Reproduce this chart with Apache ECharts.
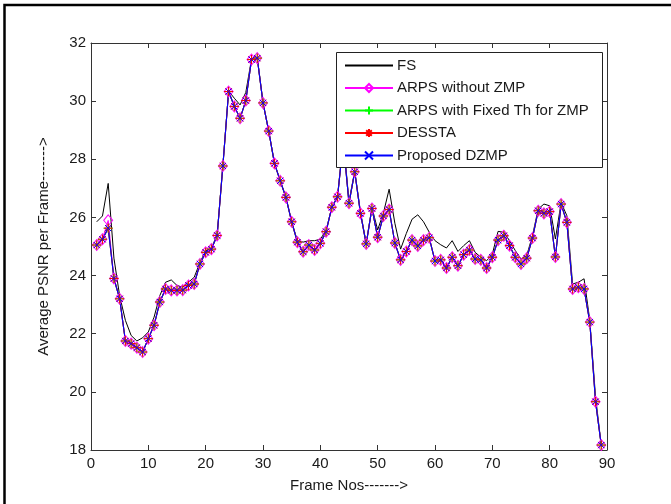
<!DOCTYPE html>
<html>
<head>
<meta charset="utf-8">
<script src="https://cdn.jsdelivr.net/npm/echarts@6/dist/echarts.min.js"></script>
<style>
  html, body { margin: 0; padding: 0; background: #fff; }
  #chart { width: 671px; height: 504px; }
</style>
</head>
<body>
<div id="chart"></div>
<script>
// Frame numbers 1..89
const frames = [1,2,3,4,5,6,7,8,9,10,11,12,13,14,15,16,17,18,19,20,21,22,23,24,25,26,27,28,29,30,
  31,32,33,34,35,36,37,38,39,40,41,42,43,44,45,46,47,48,49,50,51,52,53,54,55,56,57,58,59,60,
  61,62,63,64,65,66,67,68,69,70,71,72,73,74,75,76,77,78,79,80,81,82,83,84,85,86,87,88,89];

// Average PSNR per frame (dB) for each motion estimation method
const fs = [25.85,26.05,27.17,24.6,23.3,22.46,21.94,21.75,21.86,22.06,22.57,23.31,23.77,23.85,23.66,23.6,23.77,23.94,24.45,24.85,
  24.95,25.4,27.8,30.35,30.1,29.87,30.3,31.45,31.5,29.95,28.97,27.86,27.26,26.69,25.85,25.2,25.15,25.2,25.2,25.25,
  25.55,26.35,26.71,28.7,26.55,27.6,26.2,25.1,26.35,25.57,26.15,26.97,25.8,24.91,25.45,25.94,26.09,25.85,25.49,25.2,
  25.06,24.95,25.2,24.83,25.03,25.2,24.8,24.63,24.51,24.74,25.52,25.49,25.2,24.86,24.57,24.69,25.37,26.29,26.46,26.4,
  25.26,26.51,26.06,23.71,23.77,23.89,22.46,19.83,18.17];

const arpsNoZmp = [25.05,25.25,25.9,23.9,23.2,21.75,21.66,21.52,21.37,21.83,22.29,23.09,23.54,23.49,23.49,23.5,23.66,23.71,24.4,24.8,
  24.91,25.38,27.77,30.33,29.82,29.41,30.02,31.43,31.48,29.94,28.97,27.86,27.26,26.69,25.85,25.15,24.82,25.05,24.88,25.11,
  25.51,26.35,26.71,28.6,26.49,27.57,26.14,25.09,26.31,25.32,26.05,26.27,25.12,24.54,24.83,25.22,25.02,25.22,25.3,24.5,
  24.54,24.26,24.63,24.34,24.72,24.88,24.57,24.54,24.26,24.63,25.22,25.37,25.03,24.63,24.4,24.6,25.29,26.23,26.14,26.2,
  24.64,26.46,25.83,23.54,23.6,23.54,22.4,19.66,18.17];

const arpsFixedTh = [25.05,25.25,25.63,23.9,23.2,21.75,21.66,21.52,21.37,21.83,22.29,23.09,23.54,23.49,23.49,23.5,23.66,23.71,24.4,24.8,
  24.91,25.38,27.77,30.33,29.82,29.41,30.02,31.43,31.48,29.94,28.97,27.86,27.26,26.69,25.85,25.15,24.82,25.05,24.88,25.11,
  25.51,26.35,26.71,28.6,26.49,27.57,26.14,25.09,26.31,25.32,26.05,26.27,25.12,24.54,24.83,25.22,25.02,25.22,25.3,24.5,
  24.54,24.26,24.63,24.34,24.72,24.88,24.57,24.54,24.26,24.63,25.22,25.37,25.03,24.63,24.4,24.6,25.29,26.23,26.14,26.2,
  24.64,26.46,25.83,23.54,23.6,23.54,22.4,19.66,18.17];

const dessta = [25.05,25.25,25.63,23.9,23.2,21.75,21.66,21.52,21.37,21.83,22.29,23.09,23.54,23.49,23.49,23.5,23.66,23.71,24.4,24.8,
  24.91,25.38,27.77,30.33,29.82,29.41,30.02,31.43,31.48,29.94,28.97,27.86,27.26,26.69,25.85,25.15,24.82,25.05,24.88,25.11,
  25.51,26.35,26.71,28.6,26.49,27.57,26.14,25.09,26.31,25.32,26.05,26.27,25.12,24.54,24.83,25.22,25.02,25.22,25.3,24.5,
  24.54,24.26,24.63,24.34,24.72,24.88,24.57,24.54,24.26,24.63,25.22,25.37,25.03,24.63,24.4,24.6,25.29,26.23,26.14,26.2,
  24.64,26.46,25.83,23.54,23.6,23.54,22.4,19.66,18.17];

const dzmp = [25.05,25.25,25.63,23.9,23.2,21.75,21.66,21.52,21.37,21.83,22.29,23.09,23.54,23.49,23.49,23.5,23.66,23.71,24.4,24.8,
  24.91,25.38,27.77,30.33,29.82,29.41,30.02,31.43,31.48,29.94,28.97,27.86,27.26,26.69,25.85,25.15,24.82,25.05,24.88,25.11,
  25.51,26.35,26.71,28.6,26.49,27.57,26.14,25.09,26.31,25.32,26.05,26.27,25.12,24.54,24.83,25.22,25.02,25.22,25.3,24.5,
  24.54,24.26,24.63,24.34,24.72,24.88,24.57,24.54,24.26,24.63,25.22,25.37,25.03,24.63,24.4,24.6,25.29,26.23,26.14,26.2,
  24.64,26.46,25.83,23.54,23.6,23.54,22.4,19.66,18.17];

const seriesNames = ['FS', 'ARPS without ZMP', 'ARPS with Fixed Th for ZMP', 'DESSTA', 'Proposed DZMP'];

const pair = vals => frames.map((f, i) => [f, vals[i]]);

// stroke-only marker shapes
const PLUS = 'path://M5,0L5,10M0,5L10,5';
const STAR = 'path://M5,0L5,10M0,5L10,5M1.5,1.5L8.5,8.5M1.5,8.5L8.5,1.5';
const CROSS = 'path://M0,0L10,10M0,10L10,0';
// plain line, no marker: a transparent square keeps the legend icon line-only
const NOMARK = 'path://M0,0L10,0L10,10L0,10Z';

const FONT = 'Arial, "Liberation Sans", sans-serif';
const INK = '#1a1a1a';
const AXIS = '#333';

const chart = echarts.init(document.getElementById('chart'), null, { renderer: 'canvas' });

function markerSeries(name, vals, color, symbol, size, fillNone) {
  return {
    name, type: 'line', data: pair(vals),
    symbol, symbolSize: size, showAllSymbol: true,
    lineStyle: { color, width: 1.1 },
    itemStyle: { color: fillNone ? 'rgba(255,255,255,0)' : color, borderColor: color, borderWidth: 1 },
    emphasis: { disabled: true }
  };
}

const option = {
  animation: false,
  grid: { left: 91, right: 64, top: 43, bottom: 54, containLabel: false },
  graphic: [
    // figure frame (left and top edges)
    { type: 'polyline', z: 100, shape: { points: [[4.5, 504], [4.5, 5], [671, 5]] },
      style: { stroke: '#000', lineWidth: 2.5, fill: null } },
    // legend box
    { type: 'rect', z: 100, shape: { x: 336.5, y: 52.5, width: 266, height: 115 },
      style: { fill: '#fff', stroke: '#222', lineWidth: 1 } }
  ],
  legend: {
    z: 110,
    orient: 'vertical',
    left: 336, top: 52,
    padding: [6, 8, 6, 8],
    itemWidth: 48, itemHeight: 10, itemGap: 7.5,
    textStyle: { fontFamily: FONT, fontSize: 15, color: INK, padding: [0, 0, 0, -1] },
    data: seriesNames,
    selectedMode: false
  },
  xAxis: [
    {
      type: 'value', min: 0, max: 90, interval: 10,
      name: 'Frame Nos------->', nameLocation: 'middle', nameGap: 28,
      nameTextStyle: { fontFamily: FONT, fontSize: 15, color: INK },
      axisLine: { show: true, onZero: false, lineStyle: { color: AXIS, width: 1 } },
      axisTick: { show: true, inside: true, length: 5, lineStyle: { color: AXIS } },
      axisLabel: { fontFamily: FONT, fontSize: 15, color: INK, margin: 6 },
      splitLine: { show: false }
    },
    {
      type: 'value', min: 0, max: 90, interval: 10, position: 'top',
      axisLine: { show: true, onZero: false, lineStyle: { color: AXIS, width: 1 } },
      axisTick: { show: true, inside: true, length: 5, lineStyle: { color: AXIS } },
      axisLabel: { show: false }, splitLine: { show: false }
    }
  ],
  yAxis: [
    {
      type: 'value', min: 18, max: 32, interval: 2,
      name: 'Average PSNR per Frame------->', nameLocation: 'middle', nameGap: 40,
      nameTextStyle: { fontFamily: FONT, fontSize: 15, color: INK },
      axisLine: { show: true, onZero: false, lineStyle: { color: AXIS, width: 1 } },
      axisTick: { show: true, inside: true, length: 5, lineStyle: { color: AXIS } },
      axisLabel: { fontFamily: FONT, fontSize: 15, color: INK, margin: 5 },
      splitLine: { show: false }
    },
    {
      type: 'value', min: 18, max: 32, interval: 2, position: 'right',
      axisLine: { show: true, onZero: false, lineStyle: { color: AXIS, width: 1 } },
      axisTick: { show: true, inside: true, length: 5, lineStyle: { color: AXIS } },
      axisLabel: { show: false }, splitLine: { show: false }
    }
  ],
  series: [
    {
      name: 'FS', type: 'line', data: pair(fs),
      symbol: NOMARK, symbolSize: 6, showSymbol: false,
      lineStyle: { color: '#000', width: 1 },
      itemStyle: { color: 'rgba(0,0,0,0)', borderWidth: 0 },
      emphasis: { disabled: true }
    },
    markerSeries('ARPS without ZMP', arpsNoZmp, '#ff00ff', 'diamond', [9, 11], true),
    markerSeries('ARPS with Fixed Th for ZMP', arpsFixedTh, '#00ff00', PLUS, 9, false),
    markerSeries('DESSTA', dessta, '#ff0000', STAR, 9, false),
    markerSeries('Proposed DZMP', dzmp, '#0000ff', CROSS, 6, false)
  ]
};

chart.setOption(option);
</script>
</body>
</html>
